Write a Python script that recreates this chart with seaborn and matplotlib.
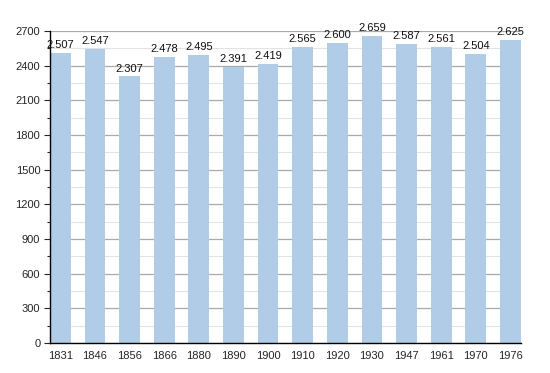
import matplotlib
matplotlib.use("Agg")
import matplotlib.pyplot as plt
import seaborn as sns
import pandas as pd
from matplotlib.ticker import MultipleLocator

years = ["1831", "1846", "1856", "1866", "1880", "1890", "1900", "1910", "1920", "1930", "1947", "1961", "1970", "1976"]
population = [2507, 2547, 2307, 2478, 2495, 2391, 2419, 2565, 2600, 2659, 2587, 2561, 2504, 2625]
labels = ["2.507", "2.547", "2.307", "2.478", "2.495", "2.391", "2.419", "2.565", "2.600", "2.659", "2.587", "2.561", "2.504", "2.625"]

df = pd.DataFrame({"year": years, "pop": population})

sns.set_style("white")
plt.rcParams["font.family"] = ["Liberation Sans", "DejaVu Sans"]

fig = plt.figure(figsize=(5.5, 3.73), dpi=100)
ax = fig.add_axes([0.0909, 0.0804, 0.856, 0.8364])

sns.barplot(data=df, x="year", y="pop", color="#b0cce6", saturation=1, width=0.6,
            linewidth=0, edgecolor="none", errorbar=None, ax=ax)
for p in ax.patches:
    p.set_zorder(3)
    p.set_linewidth(0)

ax.set_ylim(0, 2700)
ax.set_xlim(-0.3, 13.3)
ax.yaxis.set_major_locator(MultipleLocator(300))
ax.yaxis.set_minor_locator(MultipleLocator(150))
ax.set_axisbelow(True)
ax.yaxis.grid(True, which="major", color="#aaaaaa", linewidth=0.9)
ax.yaxis.grid(True, which="minor", color="#e3e3e3", linewidth=0.8)
ax.xaxis.grid(False)

for s in ["top", "right"]:
    ax.spines[s].set_visible(False)
ax.spines["left"].set_color("black")
ax.spines["bottom"].set_color("black")
ax.spines["left"].set_linewidth(1)
ax.spines["bottom"].set_linewidth(1)
ax.spines["left"].set_zorder(4)
ax.spines["bottom"].set_zorder(4)

ax.tick_params(axis="y", which="major", left=True, length=4, width=0.8, labelsize=8, pad=3)
ax.tick_params(axis="y", which="minor", left=True, length=2, width=0.8)
ax.tick_params(axis="x", bottom=False, labelsize=8, pad=2)
ax.set_xlabel("")
ax.set_ylabel("")

for i, (v, t) in enumerate(zip(population, labels)):
    ax.text(i, v + 25, t, ha="center", va="bottom", fontsize=8, color="#111111", zorder=5)

fig.savefig("out.png", dpi=100)
